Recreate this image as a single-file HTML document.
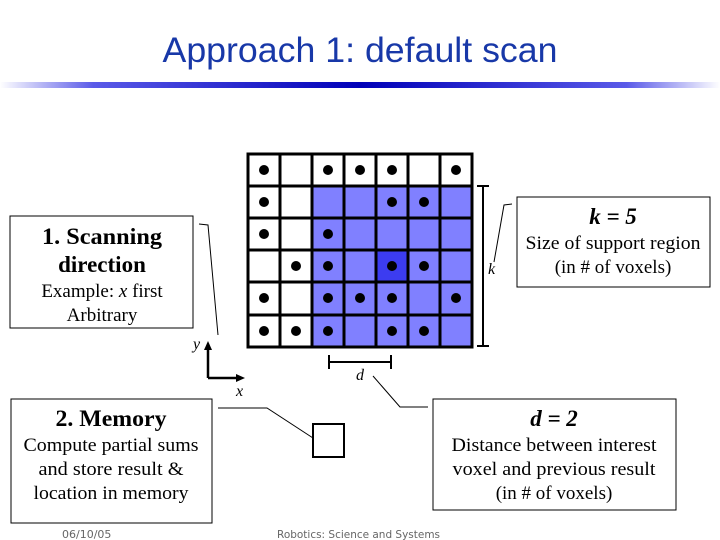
<!DOCTYPE html>
<html><head><style>
html,body{margin:0;padding:0;background:#fff;}
svg{display:block;}
</style></head><body>
<svg width="720" height="540" viewBox="0 0 720 540" xmlns="http://www.w3.org/2000/svg">
<defs>
<linearGradient id="bar" x1="0" x2="1" y1="0" y2="0">
<stop offset="0" stop-color="#fff"/>
<stop offset="0.13" stop-color="#5a5ae8"/>
<stop offset="0.5" stop-color="#0000b8"/>
<stop offset="0.87" stop-color="#5a5ae8"/>
<stop offset="1" stop-color="#fff"/>
</linearGradient>
</defs>
<text x="360" y="62" text-anchor="middle" font-family="Liberation Sans, sans-serif" font-size="35" fill="#1838a8" textLength="395" lengthAdjust="spacingAndGlyphs">Approach 1: default scan</text>
<rect x="0" y="82" width="720" height="6" fill="url(#bar)"/>

<g>
<rect x="312" y="186" width="160" height="161" fill="#8080ff"/>
<rect x="376" y="250" width="32" height="32" fill="#3c3cf0"/>
<g stroke="#000" stroke-width="3" fill="none">
<rect x="248" y="154" width="224" height="193"/>
<line x1="280" y1="154" x2="280" y2="347"/>
<line x1="312" y1="154" x2="312" y2="347"/>
<line x1="344" y1="154" x2="344" y2="347"/>
<line x1="376" y1="154" x2="376" y2="347"/>
<line x1="408" y1="154" x2="408" y2="347"/>
<line x1="440" y1="154" x2="440" y2="347"/>
<line x1="248" y1="186" x2="472" y2="186"/>
<line x1="248" y1="218" x2="472" y2="218"/>
<line x1="248" y1="250" x2="472" y2="250"/>
<line x1="248" y1="282" x2="472" y2="282"/>
<line x1="248" y1="315" x2="472" y2="315"/>
</g>
<g fill="#000">
<circle cx="264" cy="170" r="5"/><circle cx="328" cy="170" r="5"/><circle cx="360" cy="170" r="5"/><circle cx="392" cy="170" r="5"/><circle cx="456" cy="170" r="5"/>
<circle cx="264" cy="202" r="5"/><circle cx="392" cy="202" r="5"/><circle cx="424" cy="202" r="5"/>
<circle cx="264" cy="234" r="5"/><circle cx="328" cy="234" r="5"/>
<circle cx="296" cy="266" r="5"/><circle cx="328" cy="266" r="5"/><circle cx="392" cy="266" r="5"/><circle cx="424" cy="266" r="5"/>
<circle cx="264" cy="298" r="5"/><circle cx="328" cy="298" r="5"/><circle cx="360" cy="298" r="5"/><circle cx="392" cy="298" r="5"/><circle cx="456" cy="298" r="5"/>
<circle cx="264" cy="331" r="5"/><circle cx="296" cy="331" r="5"/><circle cx="328" cy="331" r="5"/><circle cx="392" cy="331" r="5"/><circle cx="424" cy="331" r="5"/>
</g>
</g>

<g stroke="#000" stroke-width="2">
<line x1="483" y1="186" x2="483" y2="346"/>
<line x1="477" y1="186" x2="489" y2="186"/>
<line x1="477" y1="346" x2="489" y2="346"/>
</g>
<polyline points="512,204 504,205 494,262" fill="none" stroke="#000" stroke-width="1"/>
<text x="488" y="274" font-family="Liberation Serif, serif" font-style="italic" font-size="16">k</text>

<rect x="517" y="197" width="193" height="90" fill="#fff" stroke="#000" stroke-width="1"/>
<text x="613" y="224" text-anchor="middle" font-family="Liberation Serif, serif" font-weight="bold" font-style="italic" font-size="23">k = 5</text>
<text x="613" y="249" text-anchor="middle" font-family="Liberation Serif, serif" font-size="19" textLength="175" lengthAdjust="spacingAndGlyphs">Size of support region</text>
<text x="613" y="273" text-anchor="middle" font-family="Liberation Serif, serif" font-size="19">(in # of voxels)</text>

<rect x="10" y="216" width="183" height="112" fill="#fff" stroke="#000" stroke-width="1"/>
<text x="102" y="244" text-anchor="middle" font-family="Liberation Serif, serif" font-weight="bold" font-size="23" textLength="120" lengthAdjust="spacingAndGlyphs">1. Scanning</text>
<text x="102" y="272" text-anchor="middle" font-family="Liberation Serif, serif" font-weight="bold" font-size="23">direction</text>
<text x="102" y="297" text-anchor="middle" font-family="Liberation Serif, serif" font-size="19">Example: <tspan font-style="italic">x</tspan> first</text>
<text x="102" y="321" text-anchor="middle" font-family="Liberation Serif, serif" font-size="19">Arbitrary</text>
<polyline points="199,224 208,225 218,335" fill="none" stroke="#000" stroke-width="1"/>

<g stroke="#000" stroke-width="2.5" fill="none">
<line x1="208" y1="378" x2="208" y2="348"/>
<line x1="208" y1="378" x2="238" y2="378"/>
</g>
<polygon points="208,341 204,350 212,350" fill="#000"/>
<polygon points="245,378 236,374 236,382" fill="#000"/>
<text x="193" y="349" font-family="Liberation Serif, serif" font-style="italic" font-size="16">y</text>
<text x="236" y="396" font-family="Liberation Serif, serif" font-style="italic" font-size="16">x</text>

<g stroke="#000" stroke-width="2">
<line x1="329" y1="362" x2="391" y2="362"/>
<line x1="329" y1="355" x2="329" y2="369"/>
<line x1="391" y1="355" x2="391" y2="369"/>
</g>
<text x="356" y="380" font-family="Liberation Serif, serif" font-style="italic" font-size="16">d</text>
<polyline points="373,376 400,407 428,407" fill="none" stroke="#000" stroke-width="1"/>

<polyline points="218,408 267,408 313,438" fill="none" stroke="#000" stroke-width="1"/>
<rect x="313" y="424" width="31" height="33" fill="#fff" stroke="#000" stroke-width="2"/>

<rect x="11" y="399" width="201" height="124" fill="#fff" stroke="#000" stroke-width="1"/>
<text x="111" y="426" text-anchor="middle" font-family="Liberation Serif, serif" font-weight="bold" font-size="23" textLength="111" lengthAdjust="spacingAndGlyphs">2. Memory</text>
<text x="111" y="451" text-anchor="middle" font-family="Liberation Serif, serif" font-size="19" textLength="175" lengthAdjust="spacingAndGlyphs">Compute partial sums</text>
<text x="111" y="475" text-anchor="middle" font-family="Liberation Serif, serif" font-size="19" textLength="145" lengthAdjust="spacingAndGlyphs">and store result &amp;</text>
<text x="111" y="499" text-anchor="middle" font-family="Liberation Serif, serif" font-size="19" textLength="155" lengthAdjust="spacingAndGlyphs">location in memory</text>

<rect x="433" y="399" width="243" height="111" fill="#fff" stroke="#000" stroke-width="1"/>
<text x="554" y="426" text-anchor="middle" font-family="Liberation Serif, serif" font-weight="bold" font-style="italic" font-size="23">d = 2</text>
<text x="554" y="451" text-anchor="middle" font-family="Liberation Serif, serif" font-size="19" textLength="205" lengthAdjust="spacingAndGlyphs">Distance between interest</text>
<text x="554" y="475" text-anchor="middle" font-family="Liberation Serif, serif" font-size="19" textLength="203" lengthAdjust="spacingAndGlyphs">voxel and previous result</text>
<text x="554" y="499" text-anchor="middle" font-family="Liberation Serif, serif" font-size="19">(in # of voxels)</text>

<text x="62" y="538" font-family="DejaVu Sans, sans-serif" font-size="11" fill="#666">06/10/05</text>
<text x="277" y="538" font-family="DejaVu Sans, sans-serif" font-size="11" fill="#666" textLength="163" lengthAdjust="spacingAndGlyphs">Robotics: Science and Systems</text>
</svg>
</body></html>
